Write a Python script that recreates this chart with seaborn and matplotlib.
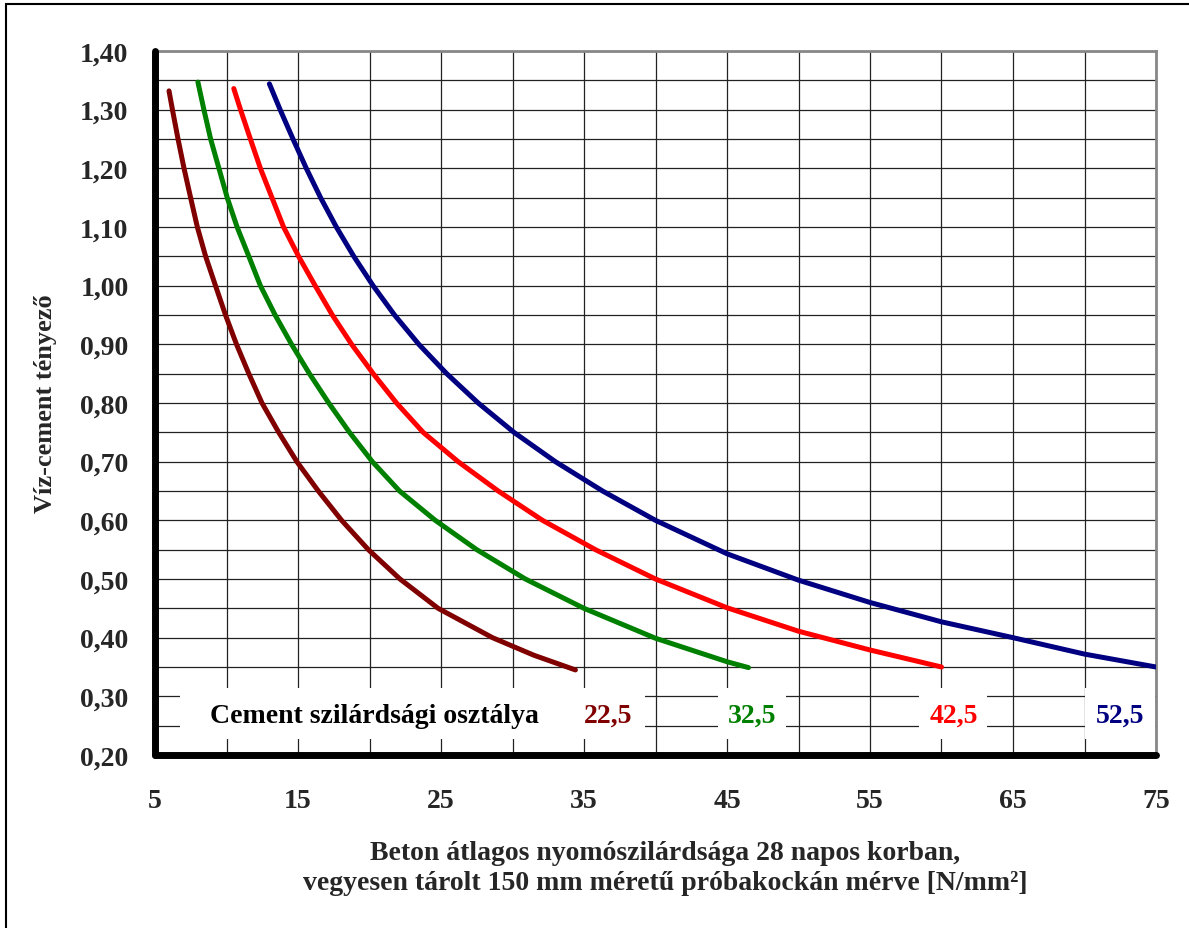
import numpy as np
import pandas as pd
import matplotlib
matplotlib.use("Agg")
import matplotlib.pyplot as plt
import matplotlib.ticker as mticker
from matplotlib.patches import Rectangle
import seaborn as sns

# ---- data ----
classes = ["22,5", "32,5", "42,5", "52,5"]
colors = ["#800000", "#008000", "#FF0000", "#000080"]

x_225 = [5.98, 6.22, 6.61, 7.03, 7.49, 7.96, 8.54, 9.23, 9.93, 10.70, 11.56, 12.48, 13.65,
         14.92, 16.42, 18.05, 19.92, 22.13, 24.8, 28.6, 31.5, 34.4]
y_225 = [1.332, 1.30, 1.25, 1.20, 1.15, 1.10, 1.05, 1.00, 0.95, 0.90, 0.85, 0.80, 0.75,
         0.70, 0.65, 0.60, 0.55, 0.50, 0.45, 0.40, 0.37, 0.345]

x_325 = [8.0, 8.42, 8.89, 9.47, 10.05, 10.74, 11.56, 12.37, 13.4, 14.55, 15.8, 17.15, 18.6,
         20.2, 22.1, 24.6, 27.5, 30.9, 35.0, 40.0, 45.0, 46.5]
y_325 = [1.347, 1.30, 1.25, 1.20, 1.15, 1.10, 1.05, 1.00, 0.95, 0.90, 0.85, 0.80, 0.75,
         0.70, 0.65, 0.60, 0.55, 0.50, 0.45, 0.399, 0.359, 0.349]

x_425 = [10.51, 10.98, 11.67, 12.37, 13.18, 13.99, 15.04, 16.2, 17.4, 18.75, 20.26, 21.89,
         23.75, 26.2, 29.0, 32.1, 35.8, 40.0, 45.0, 50.0, 55.0, 60.0]
y_425 = [1.336, 1.30, 1.25, 1.20, 1.15, 1.10, 1.05, 1.00, 0.95, 0.90, 0.85, 0.80,
         0.75, 0.70, 0.65, 0.60, 0.55, 0.50, 0.451, 0.411, 0.379, 0.35]

x_525 = [13.0, 13.75, 14.65, 15.58, 16.58, 17.68, 18.9, 20.25, 21.75, 23.45, 25.4, 27.6,
         30.1, 33.0, 36.3, 40.0, 45.0, 50.0, 55.0, 60.0, 65.0, 70.0, 75.0]
y_525 = [1.344, 1.30, 1.25, 1.20, 1.15, 1.10, 1.05, 1.00, 0.95, 0.90, 0.85, 0.80,
         0.75, 0.70, 0.65, 0.60, 0.543, 0.498, 0.46, 0.427, 0.40, 0.372, 0.35]

x_ticks = [5, 15, 25, 35, 45, 55, 65, 75]
y_ticks = [0.20, 0.30, 0.40, 0.50, 0.60, 0.70, 0.80, 0.90, 1.00, 1.10, 1.20, 1.30, 1.40]

legend_title = "Cement szilárdsági osztálya"
x_label = "Beton átlagos nyomószilárdsága 28 napos korban,\nvegyesen tárolt 150 mm méretű próbakockán mérve [N/mm²]"
y_label = "Víz-cement tényező"

# ---- build table ----
frames = []
for c, xs, ys in zip(classes, [x_225, x_325, x_425, x_525], [y_225, y_325, y_425, y_525]):
    frames.append(pd.DataFrame({"x": xs, "y": ys, "cls": c}))
df = pd.concat(frames, ignore_index=True)

sns.set_theme(style="white")
plt.rcParams["font.family"] = ["Liberation Serif", "DejaVu Serif"]
plt.rcParams["font.weight"] = "bold"

fig = plt.figure(figsize=(11.89, 9.29), dpi=100)
ax = fig.add_axes([155 / 1189, 1 - 756 / 929, (1156 - 155) / 1189, (756 - 52) / 929])

sns.lineplot(data=df, x="x", y="y", hue="cls", palette=dict(zip(classes, colors)),
             sort=False, estimator=None, units="cls", linewidth=3.6, legend=False, ax=ax,
             zorder=3)
for l in ax.get_lines():
    l.set_solid_capstyle("round")
    l.set_solid_joinstyle("round")

ax.set_xlim(5, 75)
ax.set_ylim(0.20, 1.40)
ax.set_xticks(x_ticks)
ax.set_yticks(y_ticks)
ax.xaxis.set_minor_locator(mticker.MultipleLocator(5))
ax.yaxis.set_minor_locator(mticker.MultipleLocator(0.05))
ax.yaxis.set_major_formatter(mticker.FuncFormatter(lambda v, p: f"{v:.2f}".replace(".", ",")))
ax.grid(True, which="both", color="#222222", linewidth=0.9, zorder=0)
ax.set_axisbelow(True)

for s in ["left", "bottom"]:
    ax.spines[s].set_color("black")
    ax.spines[s].set_linewidth(5)
    ax.spines[s].set_capstyle("round")
    ax.spines[s].set_zorder(5)
for s in ["top", "right"]:
    ax.spines[s].set_color("#888888")
    ax.spines[s].set_linewidth(2)

ax.tick_params(axis="both", which="major", length=9, width=5, color="black",
               labelsize=20, direction="out")
ax.tick_params(axis="x", which="major", pad=15)
ax.tick_params(axis="y", which="major", pad=10)
ax.tick_params(axis="both", which="minor", length=0)
for t in ax.get_xticklabels() + ax.get_yticklabels():
    t.set_fontweight("bold")

ax.set_xlabel(x_label, fontsize=20, fontweight="bold", linespacing=1.27)
ax.xaxis.set_label_coords((665 - 155) / 1001, -(841 - 756) / 704)
ax.set_ylabel(y_label, fontsize=19, fontweight="bold")
ax.yaxis.set_label_coords((57 - 155) / 1001, 0.5)

# legend-like labels on white boxes
ybox0, ybox1 = 0.227, 0.314
for (x0, x1) in [(6.75, 39.3), (44.4, 49.1), (58.4, 63.2), (70.0, 74.9)]:
    ax.add_patch(Rectangle((x0, ybox0), x1 - x0, ybox1 - ybox0, facecolor="white",
                           edgecolor="none", zorder=1))
ytxt = 0.268
ax.text(8.85, ytxt, legend_title, fontsize=20, fontweight="bold", color="black",
        ha="left", va="center", zorder=4)
label_x = [36.7, 46.75, 60.9, 72.5]
for c, col, lx in zip(classes, colors, label_x):
    ax.text(lx, ytxt, c, fontsize=20, fontweight="bold", color=col,
            ha="center", va="center", zorder=4)

# figure border
fig.add_artist(Rectangle((6 / 1189, -0.02), 1.1, 1 - 5 / 929 + 0.02, transform=fig.transFigure,
                         fill=False, edgecolor="black", linewidth=1.5))

fig.savefig("out.png", dpi=100)
